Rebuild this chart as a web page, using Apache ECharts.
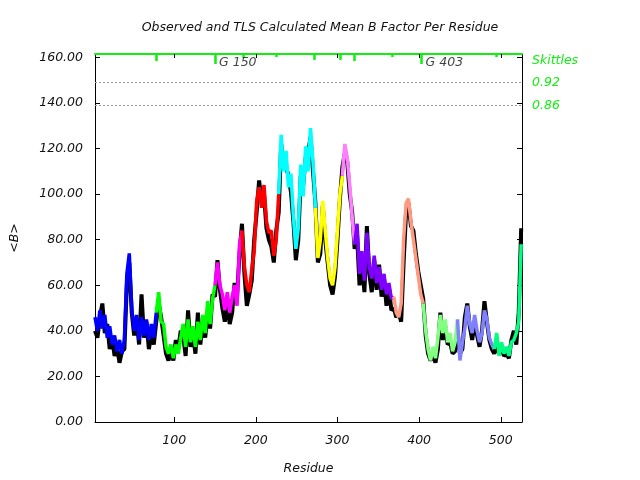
<!DOCTYPE html>
<html>
<head>
<meta charset="utf-8">
<script src="https://cdn.jsdelivr.net/npm/echarts@6/dist/echarts.min.js"></script>
<style>html,body{margin:0;padding:0;background:#fff}#c{width:640px;height:480px}</style>
</head>
<body>
<div id="c"></div>
<script>
// TLS calculated mean B (coloured), residues 3..525 every 3rd residue
const tlsB = [
  46,40,49,41,47,37,42,34,38,31,36,30,36,65,74,50,40,47,36,46,38,45,36,43,37,
  48,57,44,43,33,30,34,28,34,30,37,43,33,45,35,42,33,44,36,47,39,53,43,54,
  60,70,60,56,49,57,48,55,60,51,78,
  84,68,60,57,67,75,97,103,94,104,88,83,84,73,80,
  100,126,110,119,103,109,90,76,85,113,99,121,110,129,114,
  94,72,80,97,84,72,63,60,68,84,100,
  108,122,116,104,90,
  78,87,65,75,62,83,68,63,73,61,68,58,65,56,61,54,
  55,48,46,52,80,96,98,88,80,72,64,56,
  52,40,32,27,33,28,37,47,39,45,35,39,31,35,
  45,27,35,41,51,43,39,47,40,35,39,49,45,37,34,
  32,39,29,35,30,33,29,35,36,39,44,78
];
// Observed mean B (black)
const obsB = [
  40,37,46,52,39,43,32,37,29,33,26,31,32,60,70,48,38,45,34,56,37,44,32,39,34,
  44,52,46,38,30,27,31,27,36,32,40,38,29,49,33,39,30,48,34,43,37,49,41,56,
  55,71,58,50,44,52,43,48,61,55,74,
  87,65,51,56,62,80,92,106,97,100,85,80,77,70,84,
  92,122,114,112,108,101,88,71,80,108,104,116,118,125,110,
  96,70,74,95,80,70,60,56,64,80,98,
  112,118,114,100,92,
  76,82,60,70,57,86,65,57,71,58,69,55,63,51,59,49,
  50,46,48,44,70,92,96,86,84,74,66,60,
  54,38,30,27,30,26,32,48,36,42,34,35,30,31,
  40,30,32,46,52,42,36,44,38,33,40,53,44,36,32,
  30,34,30,32,29,30,28,36,40,34,48,85
];
const firstResidue = 3, residueStep = 3;
const residues = tlsB.map((_, i) => firstResidue + residueStep * i);

// TLS groups: first residue of each group and colour
const groupStarts = [3, 78, 150, 183, 228, 273, 306, 321, 369, 405, 447, 492];
const groupColors = ['#0000ff','#00ff00','#ff00ff','#ff0000','#00ffff','#ffff00',
                     '#ff80ff','#8000ff','#ff9980','#80ff80','#8080ff','#00ff80'];

// Skittles (group boundary marks at top)
const skittleRes = [78, 150, 184, 225, 272, 303, 320, 367, 403, 494];
const skittleLen = [3.1, 4.4, 1.8, 1.3, 2.6, 2.6, 3.1, 1.3, 4.4, 1.3];
const skittleLines = [149, 139];
const skittleLineLabels = ['0.92', '0.86'];
const markRes = [150, 403];
const markText = ['G 150', 'G 403'];

const xTicks = [100, 200, 300, 400, 500];
const yTicks = [0, 20, 40, 60, 80, 100, 120, 140, 160];

const X_MIN = 3, X_MAX = 526, Y_MIN = 0, Y_MAX = 161.5;
const FONT = 'DejaVu Sans';
const GREEN = '#11ee11';

const series = [];
series.push({
  type: 'line', name: 'obs', data: residues.map((r, i) => [r, obsB[i]]),
  symbol: 'none', lineStyle: { color: '#000', width: 4 }, z: 2,
  markLine: {
    silent: true, symbol: 'none',
    lineStyle: { color: '#999', type: [2, 2], width: 1 },
    label: { show: true, position: 'end', distance: 10, color: GREEN, fontFamily: FONT, fontStyle: 'italic', fontSize: 12.5,
             formatter: p => skittleLineLabels[p.dataIndex] },
    data: skittleLines.map(v => ({ yAxis: v }))
  }
});
groupStarts.forEach((s, g) => {
  const e = g + 1 < groupStarts.length ? groupStarts[g + 1] : Infinity;
  const pts = [];
  residues.forEach((r, i) => { if (r >= s && r <= e) pts.push([r, tlsB[i]]); });
  series.push({ type: 'line', data: pts, symbol: 'none', lineStyle: { color: groupColors[g], width: 3.5 }, z: 3 });
});
series.push({
  type: 'line', data: [], z: 4,
  markLine: {
    silent: true, symbol: 'none', label: { show: false },
    lineStyle: { color: GREEN, width: 2.5, type: 'solid' },
    data: skittleRes.map((r, i) => [{ coord: [r, Y_MAX] }, { coord: [r, Y_MAX - skittleLen[i]] }])
  }
});
series.push({
  type: 'scatter', symbolSize: 0, z: 5,
  data: markRes.map((r, i) => ({ value: [r, 157.5], name: markText[i] })),
  label: { show: true, position: 'right', distance: 4, formatter: p => p.name, color: '#111',
           fontFamily: FONT, fontStyle: 'italic', fontSize: 12.5 }
});

const chart = echarts.init(document.getElementById('c'), null, { renderer: 'canvas' });
chart.setOption({
  animation: false,
  backgroundColor: '#fff',
  title: {
    text: 'Observed and TLS Calculated Mean B Factor Per Residue',
    left: 'center', top: 16,
    textStyle: { fontFamily: FONT, fontStyle: 'italic', fontWeight: 'normal', fontSize: 12.5, color: '#111' }
  },
  graphic: [{
    type: 'text', left: 532, top: 54,
    style: { text: 'Skittles', fill: GREEN, font: 'italic 12.5px "DejaVu Sans"' }
  }],
  grid: { left: 95, right: 118, top: 54, bottom: 58 },
  xAxis: [{
    type: 'value', min: X_MIN, max: X_MAX, position: 'bottom',
    name: 'Residue', nameLocation: 'middle', nameGap: 40,
    nameTextStyle: { fontFamily: FONT, fontStyle: 'italic', fontSize: 12.5, color: '#111' },
    axisLine: { onZero: false, lineStyle: { color: '#000', width: 1 } },
    axisTick: { inside: true, length: 5, customValues: xTicks, lineStyle: { color: '#000' } },
    axisLabel: { customValues: xTicks, margin: 12, fontFamily: FONT, fontStyle: 'italic', fontSize: 12.5, color: '#111' },
    splitLine: { show: false }
  }, {
    type: 'value', min: X_MIN, max: X_MAX, position: 'top',
    axisLine: { onZero: false, lineStyle: { color: GREEN, width: 2 } },
    axisTick: { inside: true, length: 4, customValues: xTicks, lineStyle: { color: '#000' } },
    axisLabel: { show: false }, splitLine: { show: false }
  }],
  yAxis: [{
    type: 'value', min: Y_MIN, max: Y_MAX, position: 'left',
    name: '<B>', nameLocation: 'middle', nameGap: 74, nameRotate: 90,
    nameTextStyle: { fontFamily: FONT, fontStyle: 'italic', fontSize: 12.5, color: '#111' },
    axisLine: { show: true, onZero: false, lineStyle: { color: '#000', width: 1 } },
    axisTick: { inside: true, length: 5, customValues: yTicks, lineStyle: { color: '#000' } },
    axisLabel: { customValues: yTicks, margin: 12, formatter: v => v.toFixed(2),
                 fontFamily: FONT, fontStyle: 'italic', fontSize: 12.5, color: '#111' },
    splitLine: { show: false }
  }, {
    type: 'value', min: Y_MIN, max: Y_MAX, position: 'right',
    axisLine: { show: true, onZero: false, lineStyle: { color: '#000', width: 1 } },
    axisTick: { inside: true, length: 5, customValues: yTicks, lineStyle: { color: '#000' } },
    axisLabel: { show: false }, splitLine: { show: false }
  }],
  series: series
});
</script>
</body>
</html>
